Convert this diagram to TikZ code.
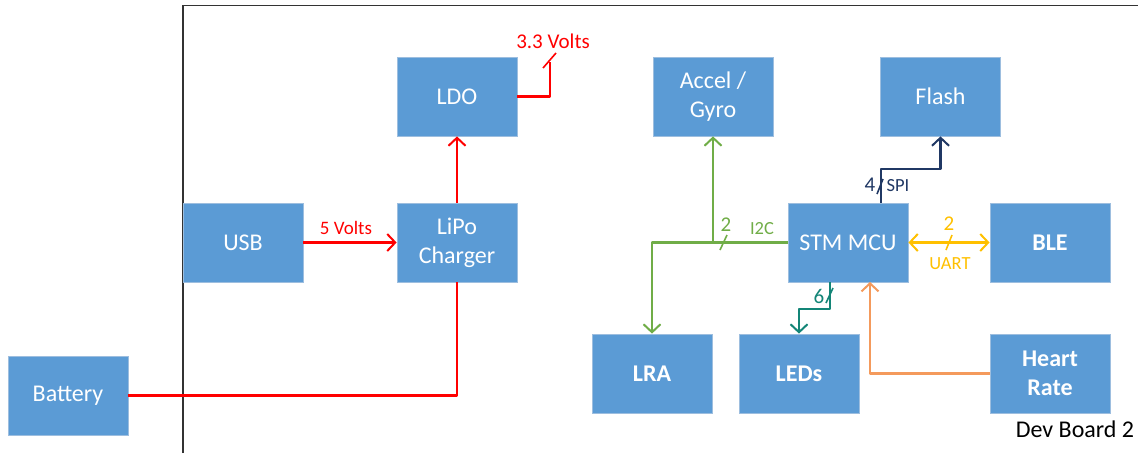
\documentclass[tikz,border=0pt]{standalone}
\usepackage{fontspec}
\setmainfont{Carlito}
\usetikzlibrary{arrows.meta}
\definecolor{boxblue}{HTML}{5B9BD5}
\definecolor{boxedge}{HTML}{9DBEDF}
\definecolor{pwr}{HTML}{FF0000}
\definecolor{itc}{HTML}{70AD47}
\definecolor{spic}{HTML}{203864}
\definecolor{uartc}{HTML}{FFC000}
\definecolor{ledc}{HTML}{138577}
\definecolor{hrc}{HTML}{F49A5C}
\tikzset{
  block/.style={fill=boxblue, draw=boxedge, line width=0.8pt, minimum width=120pt, minimum height=79pt,
    text=white, align=center, font=\fontsize{24}{29}\selectfont, inner sep=0pt},
  bblock/.style={block, font=\fontsize{24}{29}\selectfont\bfseries},
  wire/.style={line width=2.2pt, line join=round},
  tip/.style={-{Straight Barb[length=8pt,width=17pt,line width=2pt]}},
  tips/.style={{Straight Barb[length=8pt,width=17pt,line width=2pt]}-{Straight Barb[length=8pt,width=17pt,line width=2pt]}},
  busmark/.style={line width=1.6pt},
  lbl/.style={font=\fontsize{21}{24}\selectfont, inner sep=0pt},
  slbl/.style={font=\fontsize{18.5}{22}\selectfont, inner sep=0pt},
}
\begin{document}
\begin{tikzpicture}[x=1pt, y=-1pt]
\useasboundingbox (0,0) rectangle (1138,453);

% board outline
\draw[line width=1.2pt, black!80] (183,453) -- (183,5.5) -- (1138,5.5);

% blocks
\node[block] (ldo) at (457,96.5) {LDO};
\node[block] (accel) at (713,96.5) {Accel /\\Gyro};
\node[block] (flash) at (940.5,96.5) {Flash};
\node[block] (usb) at (243,242.5) {USB};
\node[block] (lipo) at (457,242.5) {LiPo\\Charger};
\node[block] (mcu) at (848,242.5) {STM MCU};
\node[bblock] (ble) at (1050,242.5) {BLE};
\node[block] (battery) at (68,395.5) {Battery};
\node[bblock] (lra) at (652,373.5) {LRA};
\node[bblock] (leds) at (799,373.5) {LEDs};
\node[bblock] (heart) at (1050,373.5) {Heart\\Rate};

% power path
\draw[wire, pwr, tip] (usb) -- (lipo);
\node[font=\fontsize{19}{22}\selectfont, text=pwr, inner sep=0pt] (v5) at (346,228) {5 Volts};
\draw[wire, pwr, tip] (lipo) -- (ldo);
\draw[wire, pwr] (battery.east) -| (lipo.south);
\coordinate (vout) at (550,62);
\draw[wire, pwr] (ldo.east) -| (vout);
\coordinate (vs1) at (543,68);
\coordinate (vs2) at (556,53);
\draw[busmark, pwr] (vs1) -- (vs2);
\node[lbl, text=pwr] (v33) at (553,41) {3.3 Volts};

% I2C bus
\draw[wire, itc, tip] (mcu.west) -| (lra.north);
\draw[wire, itc, tip] (mcu.west -| accel.south) -- (accel.south);
\coordinate (is1) at (720,250);
\coordinate (is2) at (727,235);
\draw[busmark, itc] (is1) -- (is2);
\node[lbl, text=itc] (i2n) at (726,225) {2};
\node[slbl, text=itc] (i2c) at (762,229) {I2C};

% SPI bus
\coordinate (spibend) at (881,169);
\draw[wire, spic, tip] (spibend |- mcu.north) -- (spibend) -| (flash.south);
\coordinate (ss1) at (877,194);
\coordinate (ss2) at (883,179);
\draw[busmark, spic] (ss1) -- (ss2);
\node[lbl, text=spic] (spn) at (870,185) {4};
\node[slbl, text=spic] (spi) at (898,186) {SPI};

% UART
\draw[wire, uartc, tips] (mcu.east) -- (ble.west);
\coordinate (us1) at (946,250);
\coordinate (us2) at (952,235);
\draw[busmark, uartc] (us1) -- (us2);
\node[lbl, text=uartc] (uan) at (949,224) {2};
\node[slbl, text=uartc] (uart) at (950,264) {UART};

% LED lines
\coordinate (ledbend) at (830,309);
\draw[wire, ledc, tip] (ledbend |- mcu.south) -- (ledbend) -| (leds.north);
\coordinate (ls1) at (826,303);
\coordinate (ls2) at (833,288);
\draw[busmark, ledc] (ls1) -- (ls2);
\node[lbl, text=ledc] (ledn) at (819,296) {6};

% heart rate sensor
\coordinate (hrin) at (870,282);
\draw[wire, hrc, tip] (heart.west) -| (hrin);

\node[font=\fontsize{24}{28}\selectfont, inner sep=0pt] (board) at (1075,429) {Dev Board 2};
\end{tikzpicture}
\end{document}
